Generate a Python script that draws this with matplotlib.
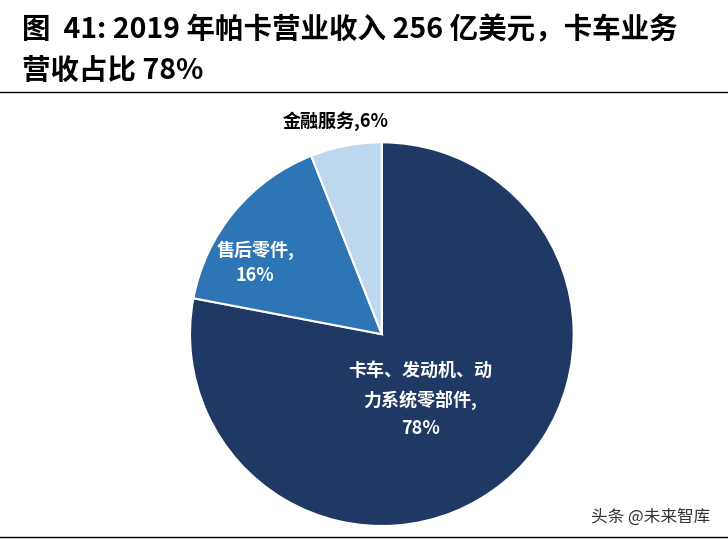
import matplotlib
matplotlib.use("Agg")
import matplotlib.pyplot as plt

labels = ["卡车、发动机、动\n力系统零部件,\n78%", "售后零件,\n16%", "金融服务,6%"]
values = [78, 16, 6]
colors = ["#203864", "#2E75B6", "#BDD7EE"]

plt.rcParams['font.family'] = ['Noto Sans CJK SC', 'DejaVu Sans']
fig = plt.figure(figsize=(7.28, 5.39), dpi=100)
fig.text(0.03, 0.945, "图  41: 2019 年帕卡营业收入 256 亿美元，卡车业务", fontsize=20.5, fontweight='bold', va='center')
fig.text(0.03, 0.868, "营收占比 78%", fontsize=20.5, fontweight='bold', va='center')
fig.add_artist(plt.Line2D([0, 1], [0.83, 0.83], color='black', lw=1))
fig.add_artist(plt.Line2D([0, 1], [0.003, 0.003], color='black', lw=1))

ax = fig.add_axes([0.261, 0.024, 0.527, 0.712])
wedges, _ = ax.pie(values, colors=colors, startangle=90, counterclock=False,
                   wedgeprops=dict(edgecolor='white', linewidth=1.5))
ax.set_xlim(-1, 1)
ax.set_ylim(-1, 1)
ax.set_aspect('equal')
ax.text(0.2, -0.34, labels[0], color='white', fontsize=13, fontweight='bold', ha='center', va='center', linespacing=1.6)
ax.text(-0.66, 0.37, labels[1], color='white', fontsize=13, fontweight='bold', ha='center', va='center', linespacing=1.4)
ax.text(-0.24, 1.11, labels[2], color='black', fontsize=13, fontweight='bold', ha='center', va='center')
fig.text(0.975, 0.04, "头条 @未来智库", fontsize=12, color='#333333', ha='right', va='center')
fig.savefig("out.png", dpi=100)
